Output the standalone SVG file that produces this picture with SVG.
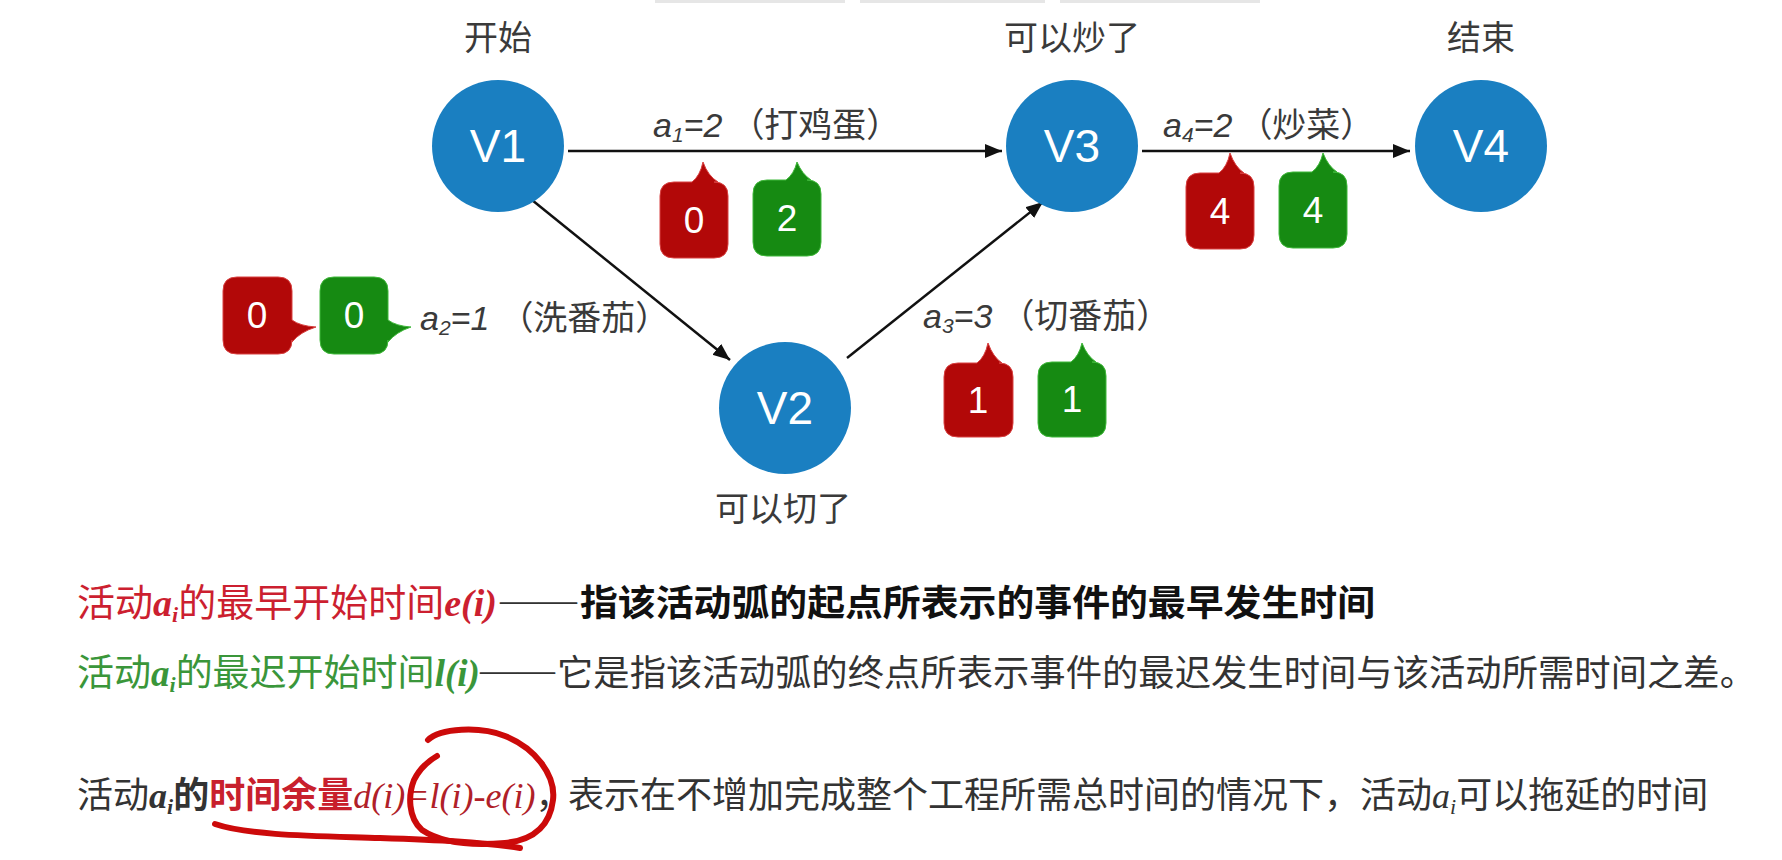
<svg xmlns="http://www.w3.org/2000/svg" width="1782" height="860" viewBox="0 0 1782 860">
<style>
.nc{fill:#1a7fc1}
.nt{fill:#fff;font-family:"Liberation Sans",sans-serif;font-size:46px;text-anchor:middle}
.lbl{font-family:"Noto Sans CJK SC",sans-serif;font-size:34px;fill:#3a3a3a;text-anchor:middle}
.edge{stroke:#111;stroke-width:2.5;fill:none;marker-end:url(#arr)}
.el{font-family:"Liberation Sans","Noto Sans CJK SC",sans-serif;font-size:34px;fill:#3a3a3a}
.it{font-style:italic}
.sub{font-style:italic;font-size:21px}
.br{fill:#b20808;stroke:#d84040;stroke-width:1}
.bg{fill:#168a12;stroke:#3fb83a;stroke-width:1}
.bt{fill:#fff;font-family:"Liberation Sans",sans-serif;font-size:37px;text-anchor:middle}
.cjk{font-family:"Noto Sans CJK SC",sans-serif;font-size:36px}
.m{font-family:"Liberation Serif",serif;font-style:italic;font-weight:bold}
.mn{font-family:"Liberation Serif",serif;font-style:italic}
.ann{fill:none;stroke:#cc0a0a;stroke-width:6;stroke-linecap:round;stroke-linejoin:round}
</style>
<defs>
<marker id="arr" markerUnits="userSpaceOnUse" markerWidth="20" markerHeight="16" refX="17" refY="7" orient="auto">
<path d="M0,0 L17,7 L0,14 Z" fill="#111"/>
</marker>
</defs>
<rect width="1782" height="860" fill="#fff"/>
<g id="top-strips" fill="#e6e6e6">
<rect x="655" y="0" width="190" height="3"/>
<rect x="860" y="0" width="185" height="3"/>
<rect x="1060" y="0" width="200" height="3"/>
</g>
<g id="connectors">
<line class="edge" x1="568" y1="151" x2="1002" y2="151"/>
<line class="edge" x1="1142" y1="151" x2="1410" y2="151"/>
<line class="edge" x1="532" y1="200" x2="730" y2="360"/>
<line class="edge" x1="847" y1="358" x2="1043" y2="202"/>
<text class="el" x="653" y="137"><tspan class="it">a</tspan><tspan class="sub" dy="5">1</tspan><tspan class="it" dy="-5">=2</tspan><tspan dx="8">（打鸡蛋）</tspan></text>
<text class="el" x="1163" y="137"><tspan class="it">a</tspan><tspan class="sub" dy="5">4</tspan><tspan class="it" dy="-5">=2</tspan><tspan dx="6">（炒菜）</tspan></text>
<text class="el" x="420" y="330"><tspan class="it">a</tspan><tspan class="sub" dy="5">2</tspan><tspan class="it" dy="-5">=1</tspan><tspan dx="10">（洗番茄）</tspan></text>
<text class="el" x="923" y="328"><tspan class="it">a</tspan><tspan class="sub" dy="5">3</tspan><tspan class="it" dy="-5">=3</tspan><tspan dx="8">（切番茄）</tspan></text>
</g>
<g id="V1"><circle class="nc" cx="498" cy="146" r="66"/><text class="nt" x="498" y="162">V1</text><text class="lbl" x="498" y="50">开始</text></g>
<g id="V2"><circle class="nc" cx="785" cy="408" r="66"/><text class="nt" x="785" y="424">V2</text><text class="lbl" x="783" y="521">可以切了</text></g>
<g id="V3"><circle class="nc" cx="1072" cy="146" r="66"/><text class="nt" x="1072" y="162">V3</text><text class="lbl" x="1072" y="50">可以炒了</text></g>
<g id="V4"><circle class="nc" cx="1481" cy="146" r="66"/><text class="nt" x="1481" y="162">V4</text><text class="lbl" x="1481" y="50">结束</text></g>
<g id="bubble-a1-e"><path class="br" d="M674,182 L692,182 Q700,176 703,162 Q708,176 718,182 L714,182 Q728,182 728,196 L728,244 Q728,258 714,258 L674,258 Q660,258 660,244 L660,196 Q660,182 674,182 Z"/><text class="bt" x="694" y="233">0</text></g>
<g id="bubble-a1-l"><path class="bg" d="M767,180 L786,180 Q794,174 797,162 Q802,174 811,180 L807,180 Q821,180 821,194 L821,242 Q821,256 807,256 L767,256 Q753,256 753,242 L753,194 Q753,180 767,180 Z"/><text class="bt" x="787" y="231">2</text></g>
<g id="bubble-a4-e"><path class="br" d="M1200,173 L1219,173 Q1227,167 1230,153 Q1235,167 1244,173 L1240,173 Q1254,173 1254,187 L1254,235 Q1254,249 1240,249 L1200,249 Q1186,249 1186,235 L1186,187 Q1186,173 1200,173 Z"/><text class="bt" x="1220" y="224">4</text></g>
<g id="bubble-a4-l"><path class="bg" d="M1293,172 L1312,172 Q1320,166 1323,153 Q1328,166 1337,172 L1333,172 Q1347,172 1347,186 L1347,234 Q1347,248 1333,248 L1293,248 Q1279,248 1279,234 L1279,186 Q1279,172 1293,172 Z"/><text class="bt" x="1313" y="223">4</text></g>
<g id="bubble-a3-e"><path class="br" d="M958,363 L977,363 Q985,357 988,343 Q993,357 1002,363 L999,363 Q1013,363 1013,377 L1013,423 Q1013,437 999,437 L958,437 Q944,437 944,423 L944,377 Q944,363 958,363 Z"/><text class="bt" x="978" y="413">1</text></g>
<g id="bubble-a3-l"><path class="bg" d="M1052,362 L1071,362 Q1079,356 1082,343 Q1087,356 1096,362 L1092,362 Q1106,362 1106,376 L1106,423 Q1106,437 1092,437 L1052,437 Q1038,437 1038,423 L1038,376 Q1038,362 1052,362 Z"/><text class="bt" x="1072" y="412">1</text></g>
<g id="bubble-a2-e"><path class="br" d="M237,277 L278,277 Q292,277 292,291 L292,320 Q300,326 316,327 Q300,332 292,342 L292,340 Q292,354 278,354 L237,354 Q223,354 223,340 L223,291 Q223,277 237,277 Z"/><text class="bt" x="257" y="328">0</text></g>
<g id="bubble-a2-l"><path class="bg" d="M334,277 L374,277 Q388,277 388,291 L388,320 Q396,326 411,327 Q396,332 388,342 L388,340 Q388,354 374,354 L334,354 Q320,354 320,340 L320,291 Q320,277 334,277 Z"/><text class="bt" x="354" y="328">0</text></g>
<g id="notes">
<text y="616" class="cjk" style="font-size:38px" fill="#cc1f30"><tspan x="77">活动</tspan><tspan class="m">a</tspan><tspan class="m" style="font-size:22px" dy="6">i</tspan><tspan dy="-6">的最早开始时间</tspan><tspan class="m">e</tspan><tspan class="mn" font-weight="bold">(</tspan><tspan class="m">i</tspan><tspan class="mn" font-weight="bold">)</tspan></text>
<text x="500" y="612" font-family="Liberation Serif" font-size="36" fill="#333" textLength="77" lengthAdjust="spacingAndGlyphs">——</text>
<text x="580" y="616" class="cjk" font-weight="bold" fill="#111" textLength="795" lengthAdjust="spacingAndGlyphs">指该活动弧的起点所表示的事件的最早发生时间</text>
<text y="686" class="cjk" style="font-size:37px" fill="#3a963a"><tspan x="77">活动</tspan><tspan class="m">a</tspan><tspan class="m" style="font-size:22px" dy="6">i</tspan><tspan dy="-6">的最迟开始时间</tspan><tspan class="m">l</tspan><tspan class="mn" font-weight="bold">(</tspan><tspan class="m">i</tspan><tspan class="mn" font-weight="bold">)</tspan></text>
<text x="480" y="682" font-family="Liberation Serif" font-size="36" fill="#333" textLength="75" lengthAdjust="spacingAndGlyphs">——</text>
<text x="557" y="686" class="cjk" fill="#333" textLength="1199" lengthAdjust="spacingAndGlyphs">它是指该活动弧的终点所表示事件的最迟发生时间与该活动所需时间之差。</text>
<text y="808" class="cjk" fill="#333"><tspan x="77">活动</tspan><tspan class="m">a</tspan><tspan class="m" style="font-size:22px" dy="6">i</tspan><tspan dy="-6" font-weight="bold">的</tspan><tspan fill="#c8202c" font-weight="bold">时间余量</tspan><tspan class="mn" fill="#b02028">d(i)=l(i)-e(i)</tspan><tspan>，</tspan></text>
<text y="808" class="cjk" fill="#333"><tspan x="568">表示在不增加完成整个工程所需总时间的情况下，活动</tspan><tspan class="mn">a</tspan><tspan class="mn" style="font-size:22px" dy="6">i</tspan><tspan dy="-6">可以拖延的时间</tspan></text>
</g>
<g id="annotation">
<path class="ann" d="M215,824 C250,836 320,836 380,838 C440,840 480,842 520,848"/>
<path class="ann" d="M428,740 C440,728 480,726 505,736 C535,748 556,775 553,800 C550,825 535,840 505,843 C470,846 440,842 422,830 C408,818 408,795 414,780 C420,768 430,760 437,756"/>
</g>
</svg>
